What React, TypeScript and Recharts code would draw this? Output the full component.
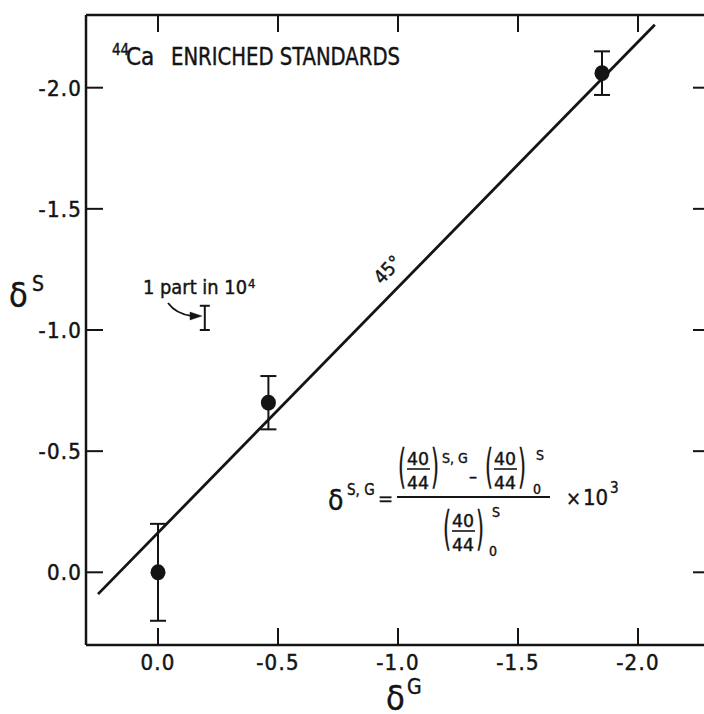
import React from "react";
import { ComposedChart, Scatter, XAxis, YAxis, ErrorBar } from "recharts";

const INK = "#141414";
const FONT = "'Liberation Sans Narrow', 'DejaVu Sans Condensed', 'Arial Narrow', sans-serif";

// enriched standards: delta G, delta S and the +/- error
const deltaG = [0, -0.46, -1.85];
const deltaS = [0, -0.7, -2.06];
const deltaErr = [0.2, 0.11, 0.09];

// the 45 degree line, its two ends
const lineG = [0.25, -2.07];
const lineS = [0.09, -2.26];

// "1 part in 10^4" scale bar
const scaleG = [-0.195];
const scaleS = [-1.05];
const scaleErr = [0.05];

const axisTicks = [0, -0.5, -1.0, -1.5, -2.0];
const axisDomain = [-2.3, 0.3];

const points = deltaG.map((g, i) => ({ x: g, y: deltaS[i], err: deltaErr[i] }));
const fitLine = lineG.map((g, i) => ({ x: g, y: lineS[i] }));
const scaleBar = scaleG.map((g, i) => ({ x: g, y: scaleS[i], err: scaleErr[i] }));

const TICK = 17;
const frame = { stroke: INK, strokeWidth: 2.5 };
// the lettering on the original is heavy, so texts get a thin outline
const heavy = { stroke: INK, strokeWidth: 0.5 };

const BottomTick = (props: any) => {
  const { x, y, payload } = props;
  return (
    <g>
      <line x1={x} y1={y} x2={x} y2={y - TICK} stroke={INK} strokeWidth={2} />
      <text x={x} y={y + 25} textAnchor="middle" fontFamily={FONT} fontSize={22} letterSpacing={1.2} fill={INK} {...heavy}>
        {Number(payload.value).toFixed(1)}
      </text>
    </g>
  );
};

const LeftTick = (props: any) => {
  const { x, y, payload } = props;
  return (
    <g>
      <line x1={x} y1={y} x2={x + TICK} y2={y} stroke={INK} strokeWidth={2} />
      <text x={x - 4} y={y + 8} textAnchor="end" fontFamily={FONT} fontSize={22} letterSpacing={1.2} fill={INK} {...heavy}>
        {Number(payload.value).toFixed(1)}
      </text>
    </g>
  );
};

const TopTick = (props: any) => (
  <line x1={props.x} y1={props.y} x2={props.x} y2={props.y + TICK} stroke={INK} strokeWidth={2} />
);

const RightTick = (props: any) => (
  <line x1={props.x} y1={props.y} x2={props.x - TICK} y2={props.y} stroke={INK} strokeWidth={2} />
);

const Dot = (props: any) => <ellipse cx={props.cx} cy={props.cy} rx={7.5} ry={8} fill={INK} />;
const NoDot = () => <g />;

const Paren = ({ x, y, c }: { x: number; y: number; c: string }) => (
  <text x={x} y={y} fontSize={46} textLength={8} lengthAdjust="spacingAndGlyphs">{c}</text>
);

// (40/44) with parentheses, left edge x, baseline of the "40"
const Ratio = ({ x, y }: { x: number; y: number }) => (
  <g>
    <Paren x={x} y={y + 17} c="(" />
    <text x={x + 9} y={y} fontSize={18} textLength={22} lengthAdjust="spacingAndGlyphs">40</text>
    <line x1={x + 9} x2={x + 32} y1={y + 4} y2={y + 4} stroke={INK} strokeWidth={1.6} />
    <text x={x + 9} y={y + 24} fontSize={18} textLength={22} lengthAdjust="spacingAndGlyphs">44</text>
    <Paren x={x + 33} y={y + 17} c=")" />
  </g>
);

export default function App() {
  return (
    <div style={{ position: "absolute", left: 0, top: 0, width: 704, height: 714, overflow: "hidden", background: "#fff" }}>
      <ComposedChart width={724} height={714} margin={{ top: 0, right: 0, bottom: 0, left: 0 }}>
        <XAxis
          xAxisId="b" type="number" dataKey="x" orientation="bottom" height={69}
          domain={axisDomain} reversed allowDataOverflow ticks={axisTicks} interval={0}
          tickSize={0} tickMargin={0} tickLine={false} tick={BottomTick} axisLine={frame}
        />
        <XAxis
          xAxisId="t" type="number" dataKey="x" orientation="top" height={15}
          domain={axisDomain} reversed allowDataOverflow ticks={axisTicks} interval={0}
          tickSize={0} tickMargin={0} tickLine={false} tick={TopTick} axisLine={frame}
        />
        <YAxis
          yAxisId="l" type="number" dataKey="y" orientation="left" width={86}
          domain={axisDomain} reversed allowDataOverflow ticks={axisTicks} interval={0}
          tickSize={0} tickMargin={0} tickLine={false} tick={LeftTick} axisLine={frame}
        />
        <YAxis
          yAxisId="r" type="number" dataKey="y" orientation="right" width={14}
          domain={axisDomain} reversed allowDataOverflow ticks={axisTicks} interval={0}
          tickSize={0} tickMargin={0} tickLine={false} tick={RightTick} axisLine={frame}
        />
        <Scatter
          xAxisId="b" yAxisId="l" data={fitLine} line={{ stroke: INK, strokeWidth: 2.8 }}
          shape={NoDot} isAnimationActive={false} legendType="none"
        />
        <Scatter xAxisId="b" yAxisId="l" data={scaleBar} shape={NoDot} isAnimationActive={false} legendType="none">
          <ErrorBar dataKey="err" direction="y" width={5} stroke={INK} strokeWidth={2} isAnimationActive={false} />
        </Scatter>
        <Scatter xAxisId="b" yAxisId="l" data={points} shape={Dot} isAnimationActive={false} legendType="none">
          <ErrorBar dataKey="err" direction="y" width={8} stroke={INK} strokeWidth={2} isAnimationActive={false} />
        </Scatter>
      </ComposedChart>

      <svg
        width={704} height={714}
        style={{ position: "absolute", left: 0, top: 0, pointerEvents: "none" }}
        fontFamily={FONT} fill={INK} stroke={INK} strokeWidth={0.4}
      >
        {/* title */}
        <text x={112} y={55} fontSize={15}>44</text>
        <text x={126} y={65} fontSize={24}>Ca</text>
        <text x={171} y={65} fontSize={24} textLength={229} lengthAdjust="spacingAndGlyphs">ENRICHED STANDARDS</text>

        {/* scale bar note */}
        <text x={143} y={294} fontSize={19} textLength={104} lengthAdjust="spacingAndGlyphs">1 part in 10</text>
        <text x={248} y={288} fontSize={13}>4</text>
        <path d="M168,303 Q176,314 192,316" fill="none" stroke={INK} strokeWidth={1.8} />
        <path d="M202,316 L190,312 L190,320 Z" />

        {/* line label */}
        <text x={388} y={276} fontSize={19} textAnchor="middle" transform="rotate(-47 388 270)">45°</text>

        {/* axis titles */}
        <text x={9} y={307} fontSize={34}>δ</text>
        <text x={32} y={291} fontSize={21}>S</text>
        <text x={386} y={710} fontSize={34}>δ</text>
        <text x={407} y={694} fontSize={21}>G</text>

        {/* definition of delta */}
        <text x={328} y={510} fontSize={28}>δ</text>
        <text x={347} y={495} fontSize={15}>S, G</text>
        <text x={378} y={505} fontSize={20}>=</text>
        <line x1={397} x2={550} y1={497} y2={497} stroke={INK} strokeWidth={2} />
        <Ratio x={398} y={465} />
        <text x={442} y={463} fontSize={14}>S, G</text>
        <text x={469} y={482} fontSize={18}>–</text>
        <Ratio x={485} y={465} />
        <text x={536} y={460} fontSize={14}>S</text>
        <text x={533} y={494} fontSize={14}>0</text>
        <Ratio x={443} y={527} />
        <text x={492} y={517} fontSize={14}>S</text>
        <text x={489} y={556} fontSize={14}>0</text>
        <text x={566} y={505} fontSize={20}>×</text>
        <text x={583} y={505} fontSize={22}>10</text>
        <text x={610} y={493} fontSize={15}>3</text>
      </svg>
    </div>
  );
}
